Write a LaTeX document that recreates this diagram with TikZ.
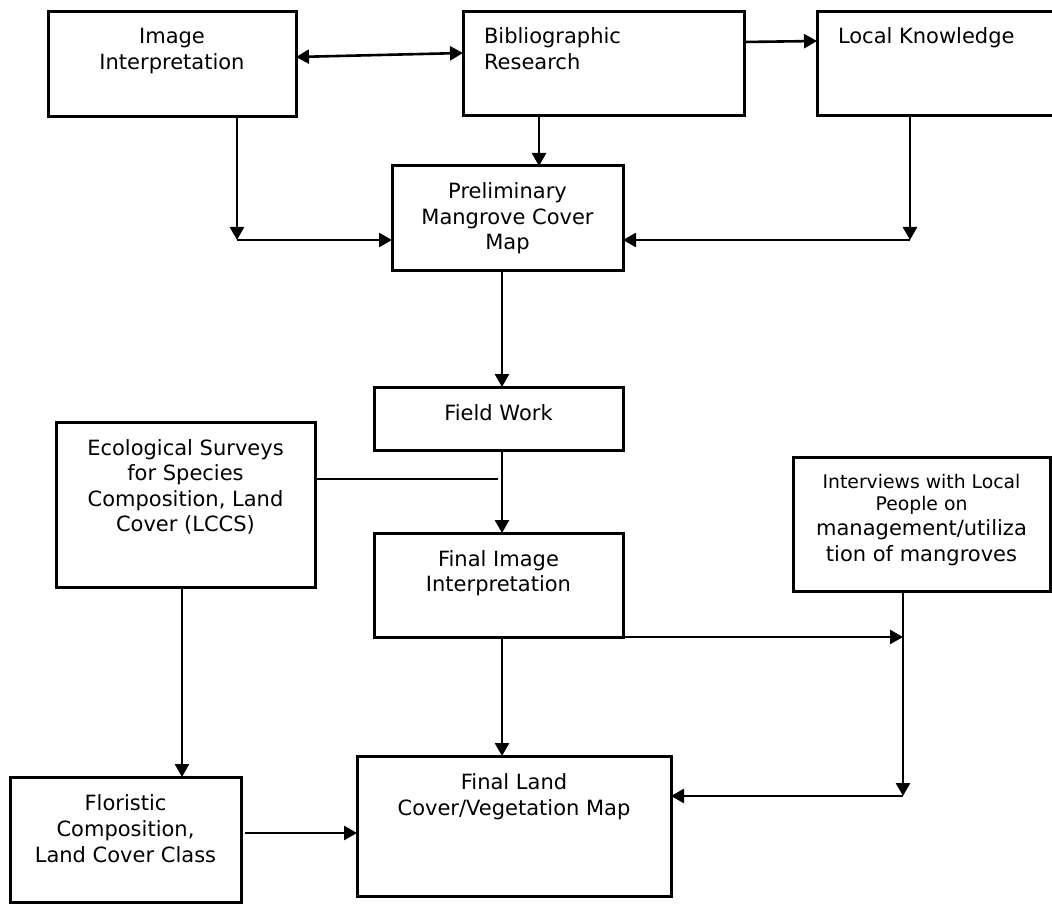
\documentclass[tikz,border=0pt]{standalone}
\usepackage{fontspec}
\setmainfont{DejaVu Sans}
\usetikzlibrary{arrows.meta}
\newcommand\bxt[4]{\parbox[c][#2][t]{#1}{\centering\vspace*{#3}\strut #4}}
\newcommand\bxl[4]{\parbox[c][#2][t]{#1}{\raggedright\leftskip=21pt\vspace*{#3}\strut #4}}
\begin{document}
\begin{tikzpicture}[x=1pt,y=-1pt,
  box/.style={draw, line width=3pt, inner sep=0pt, outer sep=0pt, font=\fontsize{21}{25.5}\selectfont},
  arr/.style={line width=2.6pt, -{Triangle[length=13pt,width=14pt]}},
  dbl/.style={line width=2.6pt, {Triangle[length=13pt,width=14pt]}-{Triangle[length=13pt,width=14pt]}},
  thinline/.style={line width=1.3pt}]
\useasboundingbox (0,0) rectangle (1052,904);
\clip (0,0) rectangle (1052,904);
\fill[white] (0,0) rectangle (1052,904);

% boxes
\node[box] (ii) at (172,64.5) {\bxt{248pt}{105pt}{14.15pt}{Image\\Interpretation}};
\node[box] (br) at (603.5,64) {\bxl{281pt}{104pt}{14.15pt}{Bibliographic\\Research}};
\node[box] (lk) at (946,64) {\bxl{258pt}{104pt}{14.15pt}{Local Knowledge}};
\node[box] (prelim) at (507.5,218) {\bxt{231pt}{104pt}{15.15pt}{Preliminary\\Mangrove Cover\\Map}};
\node[box] (fw) at (498.5,418.5) {\bxt{249pt}{63pt}{15.15pt}{Field Work}};
\node[box] (eco) at (185.5,504.5) {\bxt{259pt}{165pt}{15.15pt}{Ecological Surveys\\for Species\\Composition, Land\\Cover (LCCS)}};
\node[box] (fii) at (498.5,585) {\bxt{249pt}{104pt}{15.15pt}{Final Image\\Interpretation}};
\node[box] (int) at (921.5,524) {\parbox[c][134pt][t]{257pt}{\centering\fontsize{18.8}{22}\selectfont\vspace*{15.6pt}\strut Interviews with Local\\People on\par\fontsize{21}{25.5}\selectfont management/utiliza\\tion of mangroves}};
\node[box, font=\fontsize{21}{26}\selectfont] (flo) at (125.5,839.5) {\bxt{231pt}{125pt}{14.8pt}{Floristic\\Composition,\\Land Cover Class}};
\node[box, font=\fontsize{21}{26}\selectfont] (fl) at (514,826) {\bxt{314pt}{140pt}{14.8pt}{Final Land\\Cover/Vegetation Map}};

% connectors, top
\draw[dbl] (ii.east |- 0,57) -- (br.west |- 0,53);
\draw[arr] (br.east |- 0,42) -- (lk.west |- 0,41);
\draw[arr] (br.south -| 539,0) -- (prelim.north -| 539,0);
\coordinate (j1) at (237,240);
\draw[arr] (ii.south -| j1) -- (j1);
\draw[arr] (j1) -- (prelim.west |- j1);
\coordinate (j2) at (910,240);
\draw[arr] (lk.south -| j2) -- (j2);
\draw[arr] (j2) -- (prelim.east |- j2);

% middle
\draw[arr] (prelim.south -| 502,0) -- (fw.north -| 502,0);
\draw[arr] (fw.south -| 502,0) -- (fii.north -| 502,0);
\coordinate (j3) at (498,479);
\draw[thinline] (eco.east |- j3) -- (j3);
\draw[arr] (eco.south -| 182,0) -- (flo.north -| 182,0);
\coordinate (j4) at (903,637);
\draw[arr] (fii.south east) -- (j4);
\coordinate (j5) at (903,796);
\draw[arr] (int.south -| j5) -- (j5);
\draw[arr] (j5) -- (fl.east |- j5);

% bottom
\draw[arr] (fii.south -| 502,0) -- (fl.north -| 502,0);
\draw[arr, shorten <=4pt] (flo.east |- 0,833) -- (fl.west |- 0,833);
\end{tikzpicture}
\end{document}
